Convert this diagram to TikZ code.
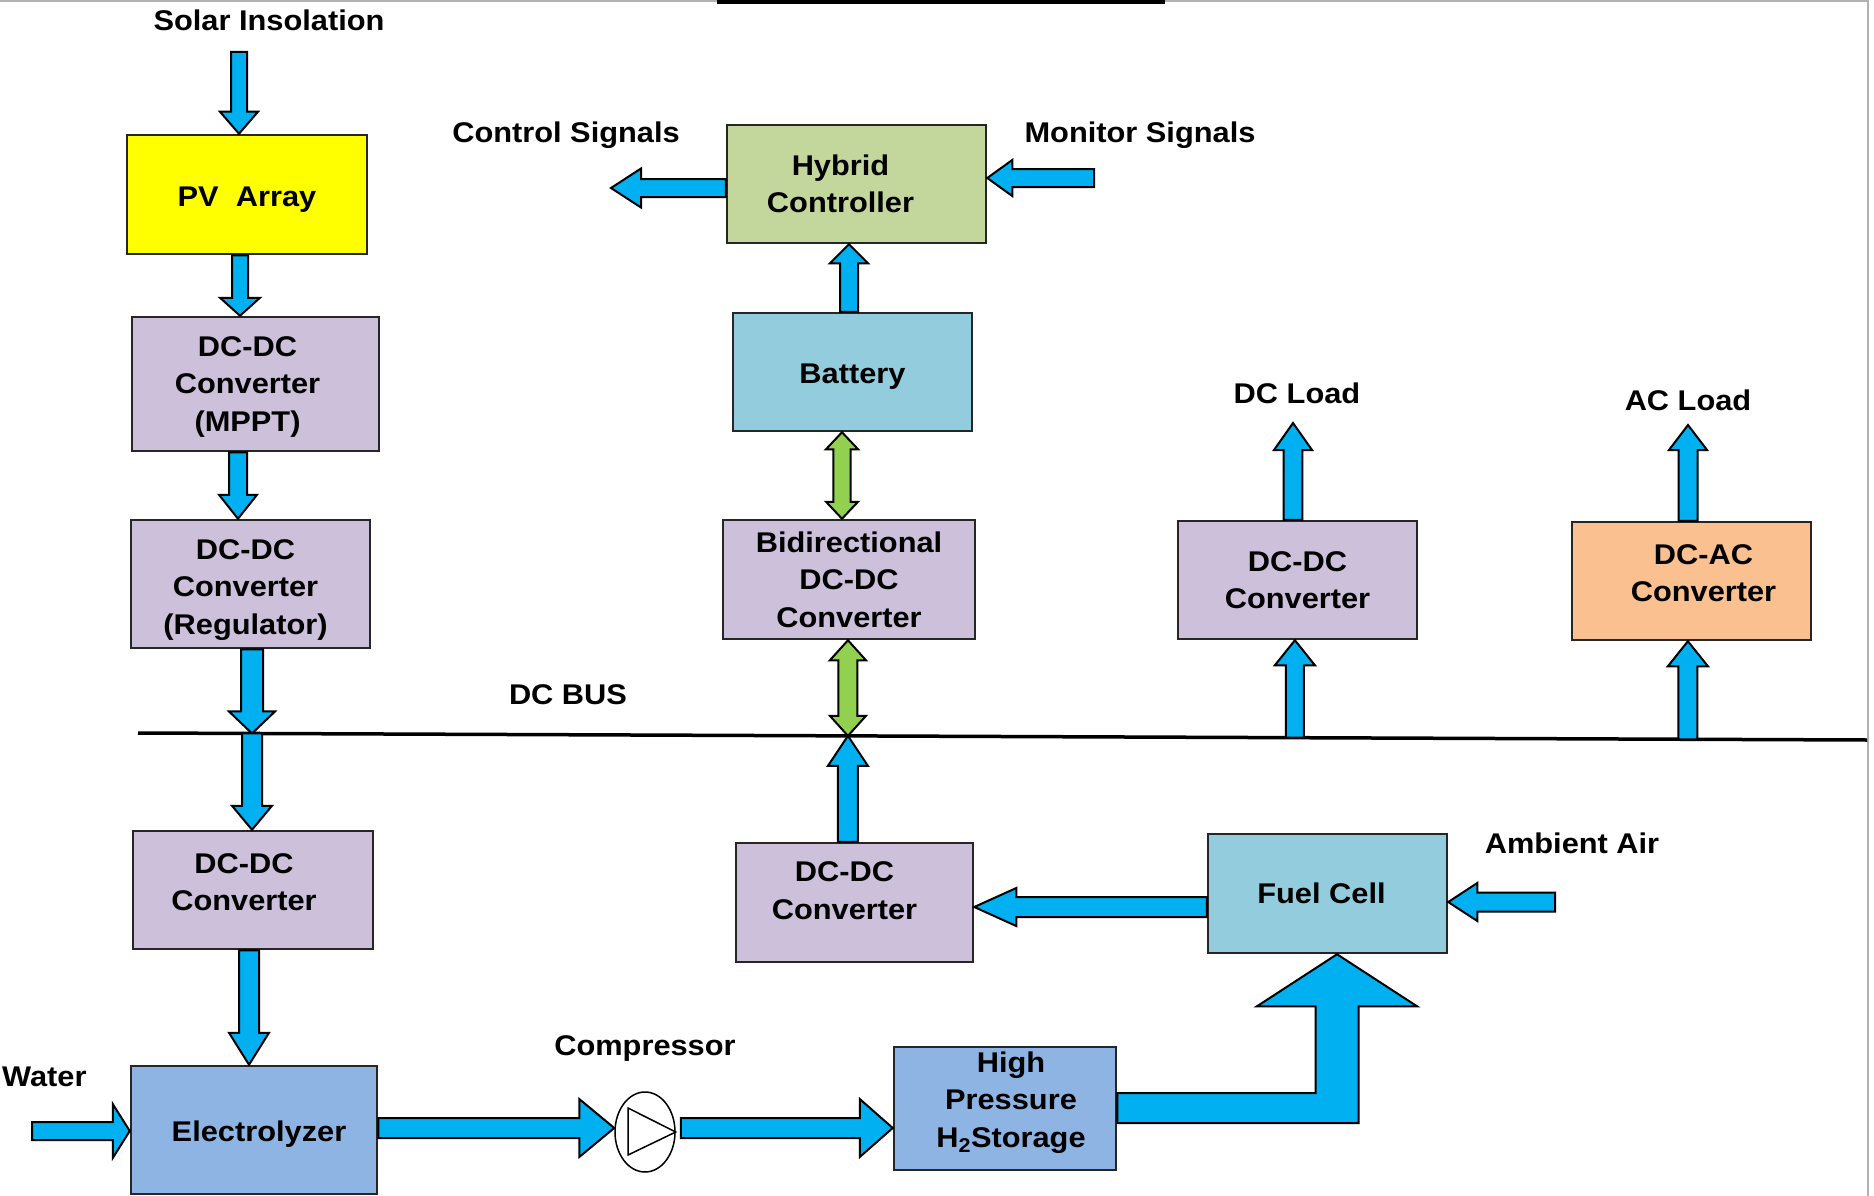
\documentclass[tikz,border=0pt]{standalone}
\usepackage{fontspec}
\setmainfont{Liberation Sans}[FakeStretch=1.08]
\usetikzlibrary{calc,shapes.geometric}
\definecolor{arrblue}{HTML}{00B0F0}
\definecolor{arrgreen}{HTML}{92D050}
\definecolor{pvyellow}{HTML}{FFFF00}
\definecolor{convpurple}{HTML}{CCC0DA}
\definecolor{ctrlgreen}{HTML}{C3D69B}
\definecolor{cellblue}{HTML}{93CDDD}
\definecolor{acorange}{HTML}{FAC090}
\definecolor{htwoblue}{HTML}{8EB4E3}
% block arrows: #1 style, #2 start, #3 tip, #4 shaft half width, #5 head half width, #6 head length
\newcommand{\arrDown}[6]{\path[#1] let \p1=(#2), \p2=(#3) in ({\x1-#4pt},\y1) -- ({\x1-#4pt},{\y2+#6pt}) -- ({\x1-#5pt},{\y2+#6pt}) -- (\x1,\y2) -- ({\x1+#5pt},{\y2+#6pt}) -- ({\x1+#4pt},{\y2+#6pt}) -- ({\x1+#4pt},\y1) -- cycle;}
\newcommand{\arrUp}[6]{\path[#1] let \p1=(#2), \p2=(#3) in ({\x1-#4pt},\y1) -- ({\x1-#4pt},{\y2-#6pt}) -- ({\x1-#5pt},{\y2-#6pt}) -- (\x1,\y2) -- ({\x1+#5pt},{\y2-#6pt}) -- ({\x1+#4pt},{\y2-#6pt}) -- ({\x1+#4pt},\y1) -- cycle;}
\newcommand{\arrRight}[6]{\path[#1] let \p1=(#2), \p2=(#3) in (\x1,{\y1-#4pt}) -- ({\x2-#6pt},{\y1-#4pt}) -- ({\x2-#6pt},{\y1-#5pt}) -- (\x2,\y1) -- ({\x2-#6pt},{\y1+#5pt}) -- ({\x2-#6pt},{\y1+#4pt}) -- (\x1,{\y1+#4pt}) -- cycle;}
\newcommand{\arrLeft}[6]{\path[#1] let \p1=(#2), \p2=(#3) in (\x1,{\y1-#4pt}) -- ({\x2+#6pt},{\y1-#4pt}) -- ({\x2+#6pt},{\y1-#5pt}) -- (\x2,\y1) -- ({\x2+#6pt},{\y1+#5pt}) -- ({\x2+#6pt},{\y1+#4pt}) -- (\x1,{\y1+#4pt}) -- cycle;}
\newcommand{\arrUD}[6]{\path[#1] let \p1=(#2), \p2=(#3) in (\x1,\y1) -- ({\x1+#5pt},{\y1-#6pt}) -- ({\x1+#4pt},{\y1-#6pt}) -- ({\x1+#4pt},{\y2+#6pt}) -- ({\x1+#5pt},{\y2+#6pt}) -- (\x1,\y2) -- ({\x1-#5pt},{\y2+#6pt}) -- ({\x1-#4pt},{\y2+#6pt}) -- ({\x1-#4pt},{\y1-#6pt}) -- ({\x1-#5pt},{\y1-#6pt}) -- cycle;}
\begin{document}
\begin{tikzpicture}[x=1pt,y=-1pt,
  font=\fontsize{28.5}{37.5}\selectfont\bfseries,
  box/.style={draw=black!85, line width=2.5pt, align=center, inner sep=0pt},
  every label/.style={align=center, inner sep=0pt, text=black},
  barrow/.style={fill=arrblue, draw=black, line width=2pt},
  garrow/.style={fill=arrgreen, draw=black, line width=2pt},
  lbl/.style={inner sep=0pt, text=black}]
\useasboundingbox (0,0) rectangle (1874,1196);
\fill[white] (0,0) rectangle (1874,1196);
\draw[black!30, line width=1.5pt] (0,1) -- (1868,1) -- (1868,1196);
\fill[black] (717,0) rectangle (1165,4);

% boxes (label = box text, shifted as in the reference; yshift is in canvas units, negative = down)
\node[box, fill=pvyellow,   minimum width=240pt, minimum height=119pt, label={[yshift=-5pt]center:{PV~ Array}}] (pv) at (247,194.5) {};
\node[box, fill=convpurple, minimum width=247pt, minimum height=134pt, label={[xshift=-8pt,yshift=-3pt]center:{DC-DC\\Converter\\(MPPT)}}] (mppt) at (255.5,384) {};
\node[box, fill=convpurple, minimum width=239pt, minimum height=128pt, label={[xshift=-5pt,yshift=-6pt]center:{DC-DC\\Converter\\(Regulator)}}] (reg) at (250.5,584) {};
\node[box, fill=convpurple, minimum width=240pt, minimum height=118pt, label={[xshift=-9pt,yshift=8pt]center:{DC-DC\\Converter}}] (dcl) at (253,890) {};
\node[box, fill=htwoblue,   minimum width=246pt, minimum height=128pt, label={[xshift=5pt,yshift=-4pt]center:{Electrolyzer}}] (elec) at (254,1130) {};
\node[box, fill=htwoblue,   minimum width=222pt, minimum height=123pt, label={[xshift=6pt,yshift=6pt]center:{High\\Pressure\\H\textsubscript{2}Storage}}] (h2) at (1005,1108.5) {};
\node[box, fill=cellblue,   minimum width=239pt, minimum height=119pt, label={[xshift=-6pt]center:{Fuel Cell}}] (fc) at (1327.5,893.5) {};
\node[box, fill=convpurple, minimum width=237pt, minimum height=119pt, label={[xshift=-10pt,yshift=12pt]center:{DC-DC\\Converter}}] (dcm) at (854.5,902.5) {};
\node[box, fill=ctrlgreen,  minimum width=259pt, minimum height=118pt, label={[xshift=-16pt]center:{Hybrid\\Controller}}] (hyb) at (856.5,184) {};
\node[box, fill=cellblue,   minimum width=239pt, minimum height=118pt, label={[yshift=-5pt]center:{Battery}}] (bat) at (852.5,372) {};
\node[box, fill=convpurple, minimum width=252pt, minimum height=119pt] (bid)  at (849,579.5)   {Bidirectional\\DC-DC\\Converter};
\node[box, fill=convpurple, minimum width=239pt, minimum height=118pt] (dcr)  at (1297.5,580)  {DC-DC\\Converter};
\node[box, fill=acorange,   minimum width=239pt, minimum height=118pt, label={[xshift=12pt,yshift=8pt]center:{DC-AC\\Converter}}] (dcac) at (1691.5,581) {};
\node[draw, ellipse, line width=1.5pt, minimum width=60pt, minimum height=80pt, inner sep=0pt] (comp) at (645,1132) {};
\draw[line width=1.5pt] ($(comp.center)+(-17,-24)$) -- ($(comp.center)+(-17,23)$) -- (comp.east) -- cycle;

% labels
\node[lbl] (solarT) at (269,20) {Solar Insolation};
\node[lbl] (ctrlT) at (566,135) {Control Signals};
\node[lbl] (monT) at (1140,135) {Monitor Signals};
\node[lbl] (dcloadT) at (1297,393) {DC Load};
\node[lbl] (acloadT) at (1688,400) {AC Load};
\node[lbl] (busT) at (568,695) {DC BUS};
\node[lbl] (ambT) at (1572,843) {Ambient Air};
\node[lbl, anchor=west] (waterT) at (2,1077) {Water};
\node[lbl] (compT) at (645,1048) {Compressor};

% DC bus
\coordinate (busL) at (138,733);
\coordinate (busR) at (1867,740);
\draw[line width=3.5pt] (busL) -- (busR);
\coordinate (busA) at ($(busL)!(252,735)!(busR)$);
\coordinate (busB) at ($(busL)!(848,735)!(busR)$);
\coordinate (busC) at ($(busL)!(1295,735)!(busR)$);
\coordinate (busD) at ($(busL)!(1688,735)!(busR)$);

% free ends
\coordinate (solarIn) at (239,52);
\coordinate (waterIn) at (32,1131);
\coordinate (ambIn) at (1555,902);
\coordinate (ctrlOut) at (611,188);
\coordinate (monIn) at (1094,178);
\coordinate (dcLoadOut) at (1293,423);
\coordinate (acLoadOut) at (1688,425);
\coordinate (bigTip) at (1337,0 |- fc.south);

% arrows
\arrDown{barrow}{solarIn}{solarIn |- pv.north}{8}{19}{22}
\arrDown{barrow}{$(pv.south)+(-7,0)$}{mppt.north}{8}{20}{18}
\arrDown{barrow}{$(mppt.south)+(-17.5,0)$}{reg.north}{9}{19}{24}
\arrDown{barrow}{busA |- reg.south}{busA}{11}{23}{22}
\arrDown{barrow}{busA}{dcl.north}{10}{20}{24}
\arrDown{barrow}{$(dcl.south)+(-4,0)$}{elec.north}{10}{20}{32}
\arrRight{barrow}{waterIn}{elec.west}{9}{27}{17}
\arrRight{barrow}{$(elec.east)+(0,-2)$}{comp.west}{10}{29}{35}
\arrRight{barrow}{$(comp.east)+(5,-4)$}{h2.west}{10}{29}{33}
\path[barrow] let \p1=(h2.east), \p2=(bigTip) in
  (\x1,{\y1+15.5pt}) -- ({\x2-21.5pt},{\y1+15.5pt}) -- ({\x2-21.5pt},{\y2-52pt}) -- ({\x2-80pt},{\y2-52pt}) -- (\x2,\y2)
  -- ({\x2+80pt},{\y2-52pt}) -- ({\x2+21.5pt},{\y2-52pt}) -- ({\x2+21.5pt},{\y1-14.5pt}) -- (\x1,{\y1-14.5pt}) -- cycle;
\arrLeft{barrow}{ambIn}{fc.east}{9.5}{19}{29}
\arrLeft{barrow}{$(fc.west)+(0,13.5)$}{dcm.east}{10}{19}{42}
\arrUp{barrow}{busB |- dcm.north}{busB}{10}{20}{30}
\arrUD{garrow}{busB |- bid.south}{busB}{9.5}{18}{20}
\arrUD{garrow}{$(bat.south)+(-10.5,0)$}{bid.north}{8.7}{16}{17}
\arrUp{barrow}{$(bat.north)+(-3.5,0)$}{hyb.south}{9}{19}{19}
\arrLeft{barrow}{hyb.west |- ctrlOut}{ctrlOut}{9}{19.5}{30}
\arrLeft{barrow}{monIn}{hyb.east}{9}{18}{25}
\arrUp{barrow}{dcLoadOut |- dcr.north}{dcLoadOut}{9.4}{19}{27}
\arrUp{barrow}{busC}{dcr.south}{9}{20}{25}
\arrUp{barrow}{acLoadOut |- dcac.north}{acLoadOut}{9.5}{19}{25}
\arrUp{barrow}{busD}{dcac.south}{9.5}{20}{25}
\end{tikzpicture}
\end{document}
